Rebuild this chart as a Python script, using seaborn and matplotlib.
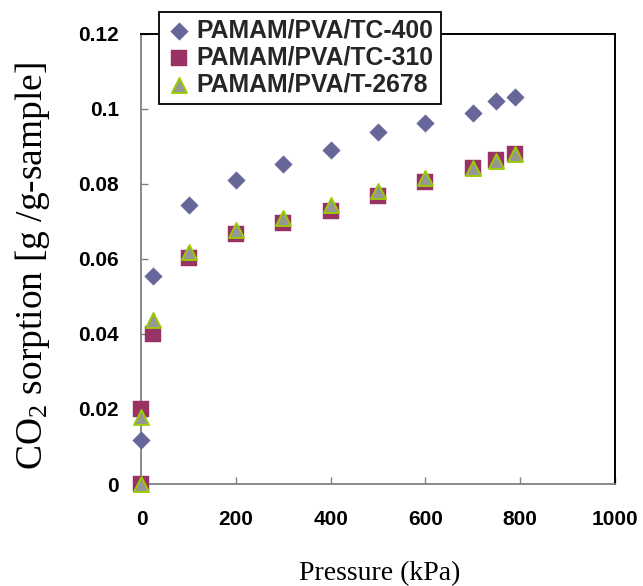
import matplotlib
matplotlib.use("Agg")
import matplotlib.pyplot as plt
import seaborn as sns
import pandas as pd

# CO2 sorption isotherms for three PAMAM/PVA membranes
series_names = ["PAMAM/PVA/TC-400", "PAMAM/PVA/TC-310", "PAMAM/PVA/T-2678"]

pressure_tc400 = [0, 25, 100, 200, 300, 400, 500, 600, 700, 750, 790]
sorption_tc400 = [0.0118, 0.0553, 0.0743, 0.0810, 0.0853, 0.0890, 0.0937, 0.0961, 0.0989, 0.1019, 0.1030]

pressure_tc310 = [0, 0, 25, 100, 200, 300, 400, 500, 600, 700, 750, 790]
sorption_tc310 = [0.0, 0.0200, 0.0400, 0.0601, 0.0665, 0.0695, 0.0728, 0.0766, 0.0804, 0.0843, 0.0863, 0.0880]

pressure_t2678 = [0, 0, 25, 100, 200, 300, 400, 500, 600, 700, 750, 790]
sorption_t2678 = [0.0, 0.0178, 0.0436, 0.0619, 0.0676, 0.0708, 0.0743, 0.0780, 0.0814, 0.0843, 0.0861, 0.0878]

x_ticks = [0, 200, 400, 600, 800, 1000]
y_ticks = [0, 0.02, 0.04, 0.06, 0.08, 0.1, 0.12]
y_tick_labels = ["0", "0.02", "0.04", "0.06", "0.08", "0.1", "0.12"]

sns.set_theme(style="white")
plt.rcParams["font.family"] = ["Liberation Sans", "DejaVu Sans"]
plt.rcParams["mathtext.fontset"] = "custom"
plt.rcParams["mathtext.rm"] = "Liberation Serif"
plt.rcParams["mathtext.it"] = "Liberation Serif:italic"

frames = {
    series_names[0]: pd.DataFrame({"p": pressure_tc400, "q": sorption_tc400}),
    series_names[1]: pd.DataFrame({"p": pressure_tc310, "q": sorption_tc310}),
    series_names[2]: pd.DataFrame({"p": pressure_t2678, "q": sorption_t2678}),
}
styles = {
    series_names[0]: dict(marker="D", color="#666699", edgecolor="#666699", s=80, linewidth=0.3),
    series_names[1]: dict(marker="s", color="#993366", edgecolor="#993366", s=125, linewidth=0.3),
    series_names[2]: dict(marker="^", color="#969696", edgecolor="#99CC00", s=115, linewidth=1.4),
}

fig = plt.figure(figsize=(6.43, 5.86), dpi=100)
ax = fig.add_axes([0.22, 0.174, 0.7359, 0.7688])

for name in series_names:
    sns.scatterplot(data=frames[name], x="p", y="q", ax=ax, label=name,
                    clip_on=False, zorder=3, **styles[name])

ax.set_xlim(0, 1000)
ax.set_ylim(0, 0.12)
ax.set_xticks(x_ticks)
ax.set_xticklabels([str(v) for v in x_ticks])
ax.set_yticks(y_ticks)
ax.set_yticklabels(y_tick_labels)

for lab in ax.get_xticklabels() + ax.get_yticklabels():
    lab.set_fontweight("bold")
    lab.set_fontsize(15)
    lab.set_color("black")

ax.tick_params(axis="both", which="both", direction="in", length=5, width=1,
               color="#808080", bottom=True, left=True, top=False, right=False)
ax.tick_params(axis="x", pad=19)
ax.tick_params(axis="y", pad=16)

for side in ["left", "bottom"]:
    ax.spines[side].set_color("#808080")
    ax.spines[side].set_linewidth(1.3)
for side in ["top", "right"]:
    ax.spines[side].set_color("black")
    ax.spines[side].set_linewidth(1.4)
    ax.spines[side].set_visible(True)

ax.set_xlabel("Pressure (kPa)", fontsize=20, family="Liberation Serif", color="black")
ax.set_ylabel("CO$_2$ sorption [g /g-sample]", fontsize=27, family="Liberation Serif", color="black")
ax.xaxis.set_label_coords(0.504, -0.172)
ax.yaxis.set_label_coords(-0.189, 0.484)

leg = ax.legend(loc="upper left", bbox_to_anchor=(0.037, 1.048), borderaxespad=0,
                frameon=True, fancybox=False, shadow=False,
                prop={"family": "Liberation Sans", "weight": "bold", "size": 17.8},
                handletextpad=0.15, labelspacing=0.12, borderpad=0.28,
                handlelength=1.1)
leg.get_frame().set_edgecolor("black")
leg.get_frame().set_linewidth(1.3)
leg.get_frame().set_facecolor("white")
leg.get_frame().set_alpha(1)
leg.set_zorder(5)

fig.savefig("out.png", dpi=100)
